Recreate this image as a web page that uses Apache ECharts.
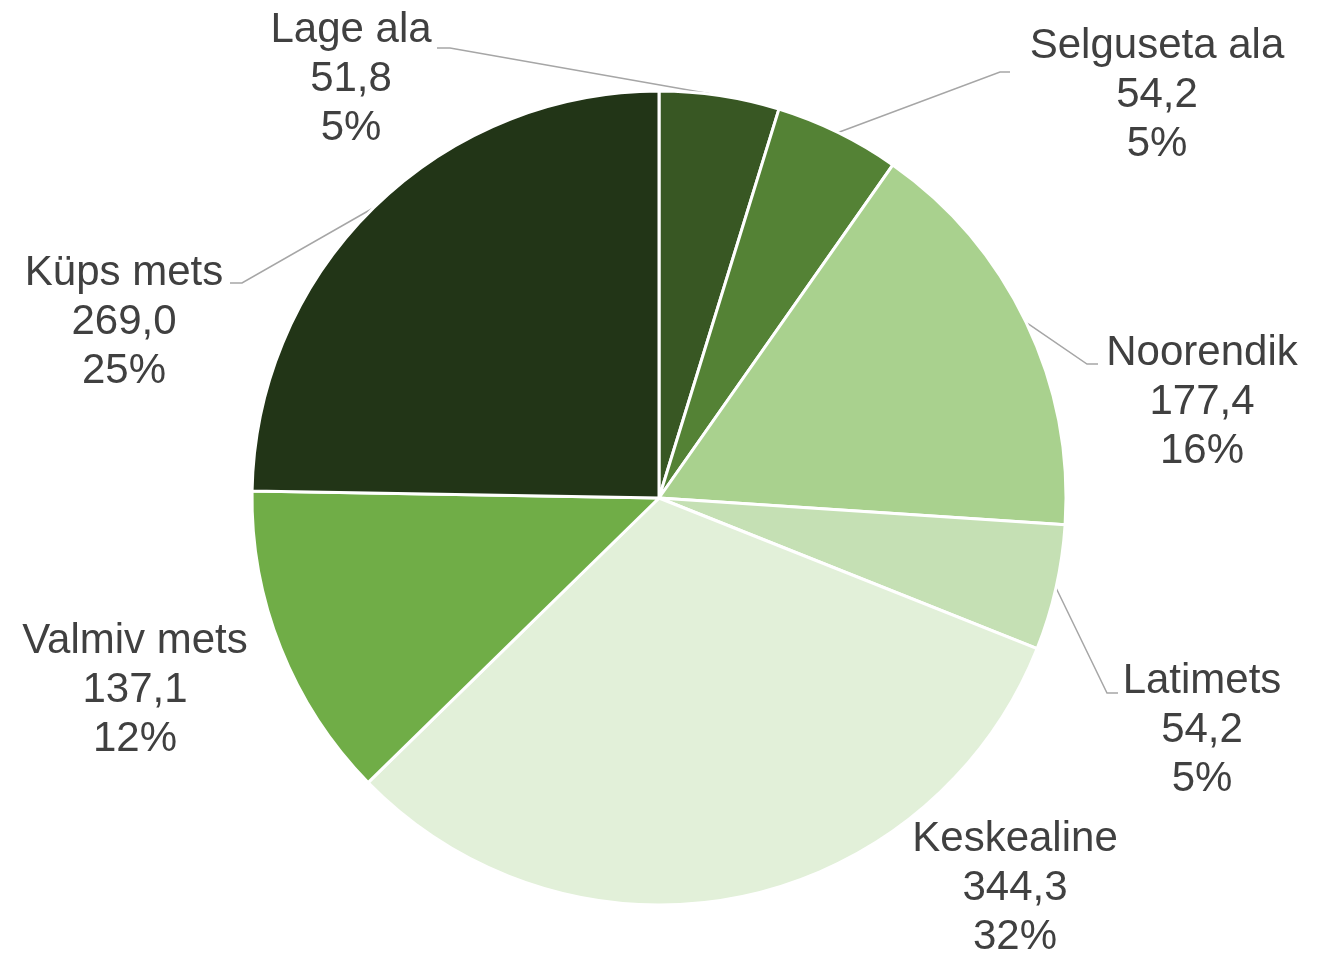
<!DOCTYPE html>
<html>
<head>
<meta charset="utf-8">
<script src="https://cdn.jsdelivr.net/npm/echarts@6/dist/echarts.min.js"></script>
<style>
  html, body { margin: 0; padding: 0; background: #fff; }
  #chart { width: 1327px; height: 954px; }
</style>
</head>
<body>
<div id="chart"></div>
<script>
// andmed
const categories = ['Lage ala', 'Selguseta ala', 'Noorendik', 'Latimets', 'Keskealine', 'Valmiv mets', 'Küps mets'];
const values = [51.8, 54.2, 177.4, 54.2, 344.3, 137.1, 269.0];
const percents = [5, 5, 16, 5, 32, 12, 25];
const colors = ['#385723', '#548235', '#A9D18E', '#C5E0B4', '#E2F0D9', '#70AD47', '#223517'];

// sildi asukohad (keskpunkt x, keskmise rea y)
const labelPos = [[351, 79], [1157, 95], [1202, 402], [1202, 730], [1015, 888], [135, 690], [124, 322]];
// juhtjoone murdepunkt ja ots, null = joont pole
const leaderPts = [
  [[450, 48], [437, 48]],
  [[1000, 72], [1010, 72]],
  [[1087, 364], [1098, 364]],
  [[1107, 693], [1118, 693]],
  null,
  null,
  [[242, 283], [230, 283]]
];

let myChart = echarts.init(document.getElementById('chart'));

let option = {
  animation: false,
  series: [
    {
      type: 'pie',
      center: [659, 498],
      radius: 407,
      startAngle: 90,
      clockwise: true,
      itemStyle: {
        borderColor: '#fff',
        borderWidth: 3
      },
      label: {
        show: true,
        position: 'outside',
        fontFamily: 'Liberation Sans, Arial, sans-serif',
        fontSize: 42,
        lineHeight: 49,
        color: '#404040',
        align: 'center',
        width: 320,
        overflow: 'none',
        formatter: function (p) {
          return p.name + '\n' + values[p.dataIndex].toFixed(1).replace('.', ',') + '\n' + percents[p.dataIndex] + '%';
        }
      },
      labelLine: {
        show: true,
        lineStyle: { color: '#A6A6A6', width: 1.5 }
      },
      labelLayout: function (params) {
        const i = params.dataIndex;
        const res = {
          x: labelPos[i][0],
          y: labelPos[i][1],
          align: 'center',
          verticalAlign: 'middle'
        };
        const lp = leaderPts[i];
        if (lp && params.labelLinePoints) {
          res.labelLinePoints = [params.labelLinePoints[0], lp[0], lp[1]];
        }
        return res;
      },
      data: categories.map(function (name, i) {
        const item = {
          name: name,
          value: values[i],
          itemStyle: { color: colors[i] }
        };
        if (!leaderPts[i]) {
          item.labelLine = { show: false };
        }
        return item;
      })
    }
  ]
};

myChart.setOption(option);
</script>
</body>
</html>
